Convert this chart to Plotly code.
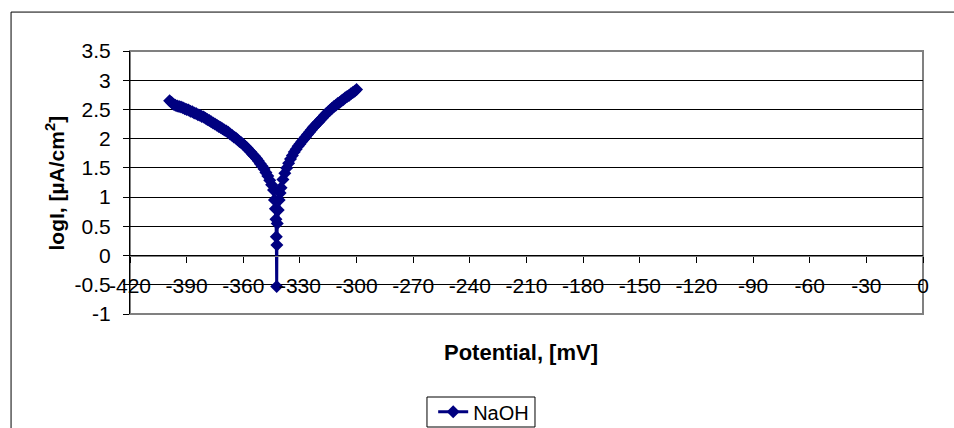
import plotly.graph_objects as go

# ---- data ----
potential_mv = [
    -399, -398, -397, -396, -395, -394, -393, -392, -391, -390,
    -389, -388, -387, -386, -385, -384, -383, -382, -381, -380,
    -379, -378, -377, -376, -375, -374, -373, -372, -371, -370,
    -369, -368, -367, -366, -365, -364, -363, -362, -361, -360,
    -359, -358, -357, -356, -355, -354, -353, -352, -351, -350,
    -349, -348, -347, -346, -345, -344, -343.5, -343, -342.7, -342.5,
    -342.3, -342.2, -342, -341.5, -341, -340.5, -340, -339, -338, -337,
    -336, -335, -334, -333, -332, -331, -330, -329, -328, -327,
    -326, -325, -324, -323, -322, -321, -320, -319, -318, -317,
    -316, -315, -314, -313, -312, -311, -310, -309, -308, -307,
    -306, -305, -304, -303, -302, -301, -300,
]
log_i = [
    2.65, 2.62, 2.59, 2.57, 2.56, 2.55, 2.54, 2.53, 2.51, 2.50,
    2.49, 2.47, 2.46, 2.44, 2.43, 2.41, 2.40, 2.38, 2.37, 2.35,
    2.33, 2.31, 2.29, 2.27, 2.25, 2.23, 2.21, 2.19, 2.17, 2.15,
    2.13, 2.11, 2.08, 2.06, 2.03, 2.01, 1.98, 1.95, 1.93, 1.90,
    1.87, 1.84, 1.80, 1.77, 1.73, 1.70, 1.66, 1.62, 1.57, 1.53,
    1.48, 1.42, 1.36, 1.29, 1.21, 1.12, 0.95, 0.80, 0.62, 0.32,
    -0.53, 0.18, 0.55, 0.78, 0.95, 1.07, 1.16, 1.30, 1.41, 1.50,
    1.58, 1.65, 1.71, 1.77, 1.82, 1.87, 1.91, 1.95, 1.99, 2.03,
    2.07, 2.11, 2.15, 2.19, 2.22, 2.26, 2.29, 2.33, 2.36, 2.40,
    2.43, 2.46, 2.49, 2.52, 2.55, 2.57, 2.60, 2.62, 2.65, 2.67,
    2.70, 2.72, 2.74, 2.77, 2.79, 2.81, 2.84,
]
series_name = "NaOH"

x_tick_vals = [-420, -390, -360, -330, -300, -270, -240, -210, -180, -150, -120, -90, -60, -30, 0]
x_tick_text = ["-420", "-390", "-360", "-330", "-300", "-270", "-240", "-210", "-180",
               "-150", "-120", "-90", "-60", "-30", "0"]
y_tick_vals = [-1, -0.5, 0, 0.5, 1, 1.5, 2, 2.5, 3, 3.5]
y_tick_text = ["-1", "-0.5", "0", "0.5", "1", "1.5", "2", "2.5", "3", "3.5"]

x_title = "<b>Potential, [mV]</b>"
y_title = "<b>logI, [µA/cm<sup>2</sup>]</b>"

FONT = "Liberation Sans, Arial, sans-serif"
NAVY = "#000080"

fig = go.Figure()
fig.add_trace(go.Scatter(
    x=potential_mv, y=log_i, mode="lines+markers", name=series_name,
    line=dict(color=NAVY, width=3),
    marker=dict(symbol="diamond", size=10, color=NAVY, line=dict(width=0)),
))
# helper trace so the label axis (x2) is drawn
fig.add_trace(go.Scatter(x=[x_tick_vals[0]], y=[y_tick_vals[0]], xaxis="x2", yaxis="y",
                         mode="markers", marker=dict(opacity=0), showlegend=False,
                         hoverinfo="skip"))

fig.update_layout(
    width=954, height=428, autosize=False,
    margin=dict(l=130, r=31, t=51, b=114, pad=0, autoexpand=False),
    paper_bgcolor="white", plot_bgcolor="white",
    font=dict(family=FONT, size=21, color="black"),
    showlegend=True,
    legend=dict(orientation="h", x=0.446, xanchor="center", y=-0.298, yanchor="top",
                borderwidth=0, bgcolor="rgba(0,0,0,0)",
                font=dict(family=FONT, size=20, color="black"),
                itemwidth=30),
    xaxis=dict(range=[-420, 0], anchor="free", position=1 / 4.5,
               showline=True, linecolor="#808080", linewidth=1,
               ticks="outside", ticklen=6, tickcolor="black", tickwidth=1,
               tickvals=x_tick_vals, showticklabels=False,
               showgrid=False, zeroline=False),
    xaxis2=dict(range=[-420, 0], overlaying="x", matches="x", anchor="free", position=0.1635,
                showline=False, ticks="", tickvals=x_tick_vals, ticktext=x_tick_text,
                tickfont=dict(family=FONT, size=21, color="black"),
                showgrid=False, zeroline=False),
    yaxis=dict(range=[-1, 3.5], tickvals=y_tick_vals, ticktext=y_tick_text,
               showgrid=True, gridcolor="black", gridwidth=1,
               showline=True, linecolor="black", linewidth=1,
               ticks="outside", ticklen=6, tickcolor="black",
               ticklabelstandoff=8, zeroline=False,
               tickfont=dict(family=FONT, size=21, color="black")),
    shapes=[
        # plot-area border
        dict(type="rect", xref="paper", yref="paper", x0=0, x1=1, y0=0, y1=1,
             line=dict(color="#808080", width=2), layer="between"),
        # outer chart frame
        dict(type="rect", xref="paper", yref="paper", x0=-0.150, x1=1.2, y0=-1.0, y1=1.148,
             line=dict(color="black", width=1), layer="below"),
        # legend box
        dict(type="rect", xref="paper", yref="paper", x0=0.3745, x1=0.5107,
             y0=-0.4297, y1=-0.3156, line=dict(color="black", width=1),
             fillcolor="white", layer="below"),
    ],
    annotations=[
        dict(text=x_title, xref="paper", yref="paper", x=0.493, y=-0.148,
             xanchor="center", yanchor="middle", showarrow=False,
             font=dict(family=FONT, size=22, color="black")),
        dict(text=y_title, xref="paper", yref="paper", x=-0.0946, y=0.5,
             xanchor="center", yanchor="middle", showarrow=False, textangle=-90,
             font=dict(family=FONT, size=21, color="black")),
    ],
)

fig.write_html("out.html")
